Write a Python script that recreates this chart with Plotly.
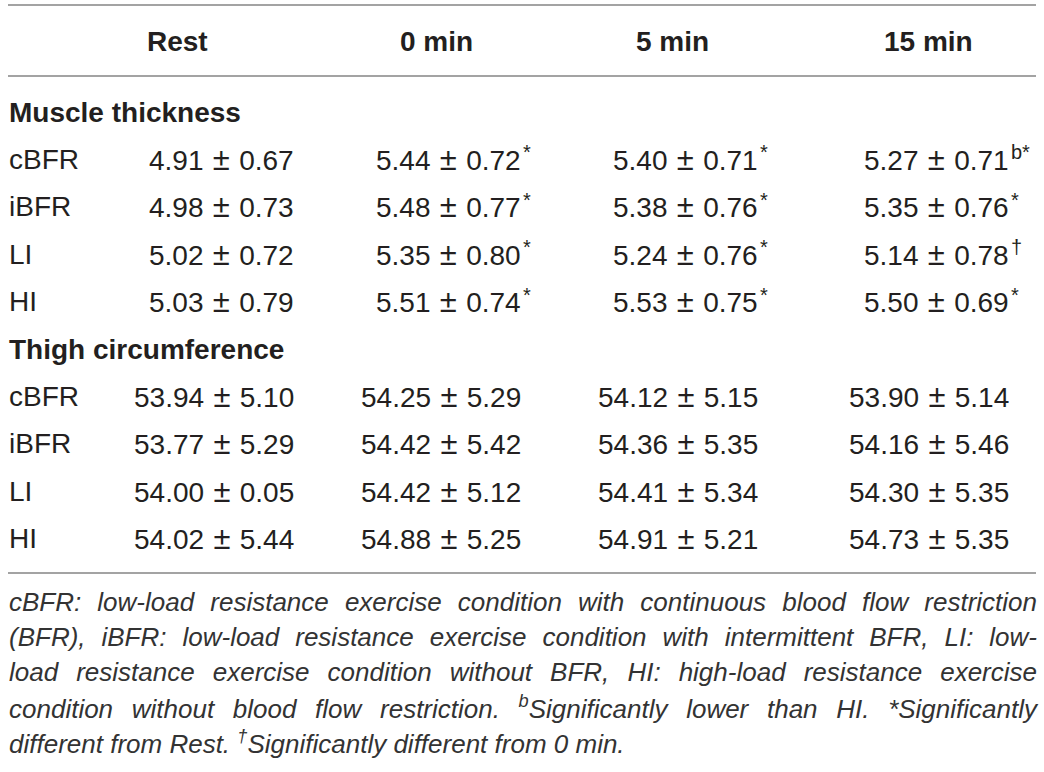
import json
import plotly.graph_objects as go

# ---------------- data ----------------
timepoints = ["Rest", "0 min", "5 min", "15 min"]
conditions = ["cBFR", "iBFR", "LI", "HI"]
sections = ["Muscle thickness", "Thigh circumference"]

# Muscle thickness (rows: cBFR, iBFR, LI, HI; cols: Rest, 0, 5, 15 min)
mt_mean = [[4.91, 5.44, 5.40, 5.27],
           [4.98, 5.48, 5.38, 5.35],
           [5.02, 5.35, 5.24, 5.14],
           [5.03, 5.51, 5.53, 5.50]]
mt_sd = [[0.67, 0.72, 0.71, 0.71],
         [0.73, 0.77, 0.76, 0.76],
         [0.72, 0.80, 0.76, 0.78],
         [0.79, 0.74, 0.75, 0.69]]
mt_marks = [["", "*", "*", "b*"],
            ["", "*", "*", "*"],
            ["", "*", "*", "†"],
            ["", "*", "*", "*"]]

# Thigh circumference
tc_mean = [[53.94, 54.25, 54.12, 53.90],
           [53.77, 54.42, 54.36, 54.16],
           [54.00, 54.42, 54.41, 54.30],
           [54.02, 54.88, 54.91, 54.73]]
tc_sd = [[5.10, 5.29, 5.15, 5.14],
         [5.29, 5.42, 5.35, 5.46],
         [0.05, 5.12, 5.34, 5.35],
         [5.44, 5.25, 5.21, 5.35]]
tc_marks = [["", "", "", ""]] * 4

footnote_lines = [
    "cBFR: low-load resistance exercise condition with continuous blood flow restriction",
    "(BFR), iBFR: low-load resistance exercise condition with intermittent BFR, LI: low-",
    "load resistance exercise condition without BFR, HI: high-load resistance exercise",
    "condition without blood flow restriction. <sup>b</sup>Significantly lower than HI. *Significantly",
    "different from Rest. <sup>†</sup>Significantly different from 0 min.",
]

# ---------------- layout settings ----------------
W, H = 1044, 772
FONT = "Liberation Sans, Arial, sans-serif"
TXT = "#231f20"
RULE = "#a3a3a3"
X_LEFT, X_RIGHT = 8, 1036
header_x = [177, 436, 672, 928]        # header centres
value_right = [295, 522, 759, 1010]   # right edge of "mean ± sd"
Y_HEADER = 41
Y_SECTION0 = 112
ROW_H = 47.4
rules_y = [5, 76, 573]
FOOT_Y0, FOOT_DY = 602, 35
SP = "\u2004"  # slightly wider space around ±
PM = '<span style="font-size:31px">±</span>'

fig = go.Figure()
fig.add_trace(go.Scatter(x=[0, W], y=[0, H], mode="markers",
                         marker=dict(opacity=0), hoverinfo="skip", showlegend=False))

ann = []
for t, xh in zip(timepoints, header_x):
    ann.append(dict(x=xh, y=Y_HEADER, text=f"<b>{t}</b>", xanchor="center", yanchor="middle",
                    font=dict(family=FONT, size=28, color=TXT)))

blocks = [(mt_mean, mt_sd, mt_marks), (tc_mean, tc_sd, tc_marks)]
y = Y_SECTION0
for sec, (means, sds, marks) in zip(sections, blocks):
    ann.append(dict(x=X_LEFT, y=y, text=f"<b>{sec}</b>", xanchor="left", yanchor="middle",
                    font=dict(family=FONT, size=28, color=TXT)))
    y += ROW_H
    for r, cond in enumerate(conditions):
        ann.append(dict(x=X_LEFT, y=y, text=cond, xanchor="left", yanchor="middle",
                        font=dict(family=FONT, size=28, color=TXT)))
        for c in range(len(timepoints)):
            ann.append(dict(x=value_right[c], y=y,
                            text=f"{means[r][c]:.2f}{SP}{PM}{SP}{sds[r][c]:.2f}",
                            xanchor="right", yanchor="middle",
                            font=dict(family=FONT, size=28, color=TXT)))
            if marks[r][c]:
                ann.append(dict(x=value_right[c], y=y, text=marks[r][c],
                                xanchor="left", yanchor="middle", yshift=7,
                                font=dict(family=FONT, size=20, color=TXT)))
        y += ROW_H

justify_idx = []
for i, line in enumerate(footnote_lines):
    if i < len(footnote_lines) - 1:
        justify_idx.append(len(ann))
    ann.append(dict(x=X_LEFT, y=FOOT_Y0 + i * FOOT_DY, text=f"<i>{line}</i>",
                    xanchor="left", yanchor="middle", align="left",
                    font=dict(family=FONT, size=26, color="#333333")))

for a in ann:
    a.update(xref="x", yref="y", showarrow=False, borderpad=0)

shapes = [dict(type="line", xref="x", yref="y", x0=X_LEFT, x1=X_RIGHT, y0=ry, y1=ry,
               line=dict(color=RULE, width=2)) for ry in rules_y]

fig.update_layout(
    width=W, height=H, margin=dict(l=0, r=0, t=0, b=0),
    paper_bgcolor="white", plot_bgcolor="white",
    xaxis=dict(range=[0, W], visible=False, fixedrange=True),
    yaxis=dict(range=[H, 0], visible=False, fixedrange=True),
    annotations=ann, shapes=shapes, showlegend=False,
)

# page without body margin + justified footnote lines (as in the reference)
post_js = """
document.body.style.margin = '0';
var gd = document.getElementById('{plot_id}');
var idx = %s;
var target = %d;
gd.querySelectorAll('g.annotation').forEach(function(g) {
  var i = parseInt(g.getAttribute('data-index'));
  if (idx.indexOf(i) < 0) return;
  var t = g.querySelector('text.annotation-text');
  if (!t) return;
  var w = t.getComputedTextLength();
  var n = (t.textContent.match(/ /g) || []).length;
  if (n > 0 && w < target) t.style.wordSpacing = ((target - w) / n) + 'px';
});
""" % (json.dumps(justify_idx), X_RIGHT - X_LEFT)

fig.write_html("out.html", config={"displayModeBar": False, "staticPlot": True},
               post_script=post_js)
